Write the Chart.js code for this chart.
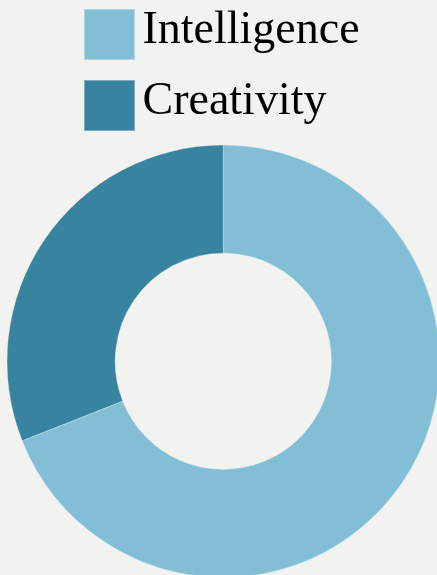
<!DOCTYPE html>
<html>
<head>
<meta charset="utf-8">
<script src="https://cdn.jsdelivr.net/npm/chart.js@4"></script>
<style>
    html, body { margin: 0; padding: 0; background: #f2f2f0; overflow: hidden; }
    /* the ring in the reference runs a few px past the right and bottom edges */
    #wrap { width: 440px; height: 588px; }
</style>
</head>
<body>
<div id="wrap"><canvas id="traitsChart"></canvas></div>
<script>
const labels = ['Intelligence', 'Creativity'];
const shares = [69, 31];
const colors = ['#82bfd7', '#38839f'];

// Legend swatch as a point-style image, so the square can sit close to the text
// and a little below its middle, like in the reference
function swatch(color) {
    const c = document.createElement('canvas');
    c.width = 119;
    c.height = 59;
    const g = c.getContext('2d');
    g.fillStyle = color;
    g.fillRect(68, 8, 51, 51);
    g.strokeStyle = 'rgba(255,255,255,0.35)';
    g.lineWidth = 1;
    g.strokeRect(68.5, 8.5, 50, 50);
    return c;
}

document.addEventListener('DOMContentLoaded', () => {
    const ctx = document.getElementById('traitsChart').getContext('2d');
    const baseLabels = Chart.overrides.doughnut.plugins.legend.labels.generateLabels;

    new Chart(ctx, {
        type: 'doughnut',
        data: {
            labels: labels,
            datasets: [{
                data: shares,
                backgroundColor: colors,
                borderColor: 'rgba(242,242,240,0.35)',
                borderWidth: 1
            }]
        },
        options: {
            responsive: true,
            maintainAspectRatio: false,
            animation: false,
            cutout: '50%',
            layout: {
                padding: { top: -17.5, left: 6.5, right: 0, bottom: 0 }
            },
            plugins: {
                legend: {
                    position: 'top',
                    align: 'start',
                    labels: {
                        usePointStyle: true,
                        pointStyleWidth: 88,
                        padding: 25,
                        color: '#000',
                        font: { family: '"Liberation Serif", serif', size: 46 },
                        generateLabels: function(chart) {
                            const items = baseLabels(chart);
                            items.forEach((item, i) => {
                                item.pointStyle = swatch(colors[i]);
                            });
                            return items;
                        }
                    }
                },
                tooltip: { enabled: false }
            }
        }
    });
});
</script>
</body>
</html>
